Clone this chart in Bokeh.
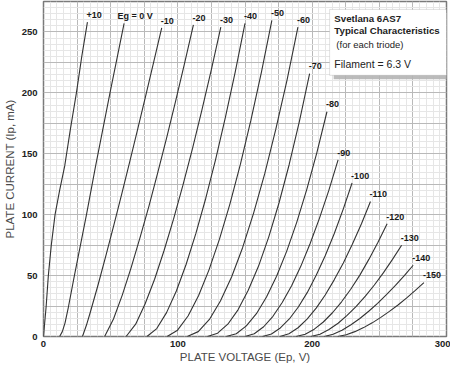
from bokeh.plotting import figure
from bokeh.models import (Range1d, FixedTicker, SingleIntervalTicker, BoxAnnotation,
                          Label, ColumnDataSource)
from bokeh.core.properties import value
from bokeh.embed import file_html
from bokeh.resources import INLINE

# ---- data: plate voltage (V) / plate current (mA) per grid voltage ----
ep_p10 = [0, 0.8, 2, 3.6, 5.8, 8.6, 12, 15.8, 20, 24.5, 28.5, 32.7]
ip_p10 = [0, 10, 25, 50, 75, 100, 120, 140, 170, 200, 230, 258]

ep_0 = [12, 14, 16, 18.5, 23, 27.5, 32, 38.8, 49.5, 60]
ip_0 = [0, 4, 11, 24, 50, 75, 100, 140, 200, 257]

ep_m10 = [29, 32, 34.9, 40.8, 46.7, 52.6, 58.5, 64.4, 70.3, 76.2, 82.1, 88]
ip_m10 = [0, 9.4, 20.1, 43.1, 67.4, 92.5, 118.2, 144.4, 171.1, 198.2, 225.6, 253.3]

ep_m20 = [45.5, 52.1, 58.7, 65.3, 71.9, 78.6, 85.2, 91.8, 98.4, 105.0, 111.6]
ip_m20 = [0, 14.4, 34.2, 56.8, 81.3, 107.5, 135.1, 163.7, 193.5, 224.2, 255.8]

ep_m30 = [61.5, 68.6, 75.6, 82.7, 89.7, 96.8, 103.8, 110.9, 117.9, 125.0, 132]
ip_m30 = [0, 10.1, 26.7, 47.0, 70.4, 96.3, 124.2, 154.2, 185.9, 219.2, 254]

ep_m40 = [77, 84.3, 91.6, 98.9, 106.2, 113.5, 120.8, 128.1, 135.4, 142.7, 150]
ip_m40 = [0, 6.5, 19.6, 37.4, 59.3, 84.8, 113.5, 145.2, 179.8, 217.1, 257]

ep_m50 = [92, 99.8, 107.6, 115.4, 123.2, 131, 138.8, 146.6, 154.4, 162.2, 170]
ip_m50 = [0, 5.2, 16.8, 33.5, 54.7, 79.9, 108.9, 141.5, 177.6, 216.9, 259.5]

ep_m60 = [107, 115.2, 123.5, 131.7, 140.0, 148.2, 156.4, 164.7, 172.9, 181.2, 189.4]
ip_m60 = [0, 4.0, 14.0, 29.1, 48.8, 72.9, 101.3, 133.7, 170.0, 210.1, 254]

ep_m70 = [122, 129.6, 137.2, 144.8, 152.4, 160.1, 167.7, 175.3, 182.9, 190.5, 198.1]
ip_m70 = [0, 2.7, 10.1, 21.9, 37.9, 57.8, 81.8, 109.6, 141.2, 176.6, 215.8]

ep_m80 = [136, 143.5, 151, 158.5, 166, 173.5, 181, 188.5, 196, 203.5, 211]
ip_m80 = [0, 2.3, 8.7, 18.7, 32.4, 49.4, 69.9, 93.7, 120.8, 151.0, 184.5]

ep_m90 = [150, 156.9, 163.9, 170.8, 177.7, 184.7, 191.6, 198.5, 205.4, 212.4, 219.3]
ip_m90 = [0, 2.3, 8.0, 16.6, 27.9, 41.6, 57.8, 76.3, 97.0, 119.9, 145]

ep_m100 = [163, 169.7, 176.3, 183.0, 189.7, 196.4, 203.0, 209.7, 216.4, 223.0, 229.7]
ip_m100 = [0, 2.0, 7.0, 14.4, 24.2, 36.2, 50.2, 66.3, 84.3, 104.2, 126]

ep_m110 = [176, 182.7, 189.5, 196.2, 203.0, 209.7, 216.4, 223.2, 229.9, 236.7, 243.4]
ip_m110 = [0, 2.2, 7.2, 14.3, 23.3, 34.1, 46.5, 60.4, 75.8, 92.6, 110.8]

ep_m120 = [188, 194.8, 201.6, 208.3, 215.1, 221.9, 228.7, 235.5, 242.2, 249.0, 255.8]
ip_m120 = [0, 1.9, 6.0, 11.9, 19.5, 28.5, 38.8, 50.4, 63.3, 77.3, 92.5]

ep_m130 = [199, 205.8, 212.5, 219.3, 226.0, 232.8, 239.6, 246.3, 253.1, 259.8, 266.6]
ip_m130 = [0, 1.9, 5.7, 10.9, 17.3, 24.7, 33.1, 42.3, 52.4, 63.3, 74.9]

ep_m140 = [209, 215.6, 222.2, 228.9, 235.5, 242.1, 248.7, 255.3, 262.0, 268.6, 275.2]
ip_m140 = [0, 1.8, 5.2, 9.6, 14.8, 20.7, 27.2, 34.3, 41.9, 49.9, 58.5]

ep_m150 = [219, 225.4, 231.8, 238.3, 244.7, 251.1, 257.5, 263.9, 270.4, 276.8, 283.2]
ip_m150 = [0, 1.4, 4.0, 7.3, 11.2, 15.7, 20.6, 25.9, 31.7, 37.8, 44.3]

curve_labels = ["+10", "Eg = 0 V", "-10", "-20", "-30", "-40", "-50", "-60", "-70",
                "-80", "-90", "-100", "-110", "-120", "-130", "-140", "-150"]

x_tick_values = [0, 100, 200, 300]
y_tick_values = [0, 50, 100, 150, 200, 250]

box_lines = ["Svetlana 6AS7", "Typical Characteristics", "(for each triode)", "Filament = 6.3 V"]

curves = [
    (ep_p10, ip_p10), (ep_0, ip_0), (ep_m10, ip_m10), (ep_m20, ip_m20), (ep_m30, ip_m30),
    (ep_m40, ip_m40), (ep_m50, ip_m50), (ep_m60, ip_m60), (ep_m70, ip_m70), (ep_m80, ip_m80),
    (ep_m90, ip_m90), (ep_m100, ip_m100), (ep_m110, ip_m110), (ep_m120, ip_m120),
    (ep_m130, ip_m130), (ep_m140, ip_m140), (ep_m150, ip_m150),
]

SANS = "Liberation Sans"

p = figure(width=450, height=365, x_range=Range1d(0, 300), y_range=Range1d(0, 275),
           output_backend="svg", toolbar_location=None, title=None,
           min_border_left=37, min_border_right=4, min_border_top=1, min_border_bottom=20)
p.background_fill_color = "white"
p.border_fill_color = "white"
p.outline_line_color = "#7a7a7a"
p.outline_line_width = 1.5

# grid: dotted every 25 units, faint minor lines every 5 units
for g in (p.xgrid, p.ygrid):
    g.ticker = SingleIntervalTicker(interval=25, num_minor_ticks=5)
    g.grid_line_color = "#8c8c8c"
    g.grid_line_dash = "1 1"
    g.grid_line_width = 1
    g.minor_grid_line_color = "#e6e6e6"
    g.minor_grid_line_width = 1

p.xaxis.ticker = FixedTicker(ticks=x_tick_values)
p.yaxis.ticker = FixedTicker(ticks=y_tick_values)
for ax in (p.xaxis, p.yaxis):
    ax.axis_line_color = None
    ax.major_tick_line_color = None
    ax.minor_tick_line_color = None
    ax.major_tick_out = 0
    ax.major_tick_in = 0
    ax.minor_tick_out = 0
    ax.minor_tick_in = 0
    ax.major_label_text_font = SANS
    ax.major_label_text_font_style = "bold"
    ax.major_label_text_font_size = "9.5px"
    ax.major_label_text_color = "#222222"
    ax.axis_label_text_font = SANS
    ax.axis_label_text_font_style = "normal"
    ax.axis_label_text_font_size = "11.5px"
    ax.axis_label_text_color = "#4a4a4a"
p.xaxis.axis_label = "PLATE VOLTAGE (Ep, V)"
p.yaxis.axis_label = "PLATE CURRENT (Ip, mA)"
p.xaxis.major_label_standoff = 4
p.yaxis.major_label_standoff = 6
p.xaxis.axis_label_standoff = 1
p.yaxis.axis_label_standoff = 3

for ep, ip in curves:
    p.line(ep, ip, line_color="#333333", line_width=1.1)

# curve labels at the top end of each curve
lx, ly = [], []
for (ep, ip), lab in zip(curves, curve_labels):
    shift = -5.0 if lab.startswith("Eg") else -0.7
    lx.append(ep[-1] + shift)
    ly.append(ip[-1] + 6)
src = ColumnDataSource(dict(x=lx, y=ly, t=curve_labels))
p.text(x="x", y="y", text="t", source=src, text_font=value(SANS), text_font_style="bold",
       text_font_size="9px", text_color="#1a1a1a", text_align="left", text_baseline="middle")

# info box with drop shadow
shadow = BoxAnnotation(left=216, right=303, top=265.2, bottom=211.1,
                       fill_color="#b4b4b4", fill_alpha=0.9, line_color=None)
box = BoxAnnotation(left=213, right=300, top=268.5, bottom=214.4,
                    fill_color="white", fill_alpha=1.0, line_color="#9a9a9a", line_width=1)
p.add_layout(shadow)
p.add_layout(box)

box_specs = [
    (box_lines[0], 216.5, 261.1, "bold", "9.7px"),
    (box_lines[1], 216.5, 251.0, "bold", "9.7px"),
    (box_lines[2], 218.0, 239.6, "normal", "9.5px"),
    (box_lines[3], 216.5, 223.7, "normal", "10.5px"),
]
for txt, bx, by, sty, sz in box_specs:
    p.add_layout(Label(x=bx, y=by, text=txt, text_font=SANS, text_font_style=sty,
                       text_font_size=sz, text_color="#222222", text_baseline="middle",
                       text_align="left"))

open("out.html", "w").write(file_html(p, INLINE))
